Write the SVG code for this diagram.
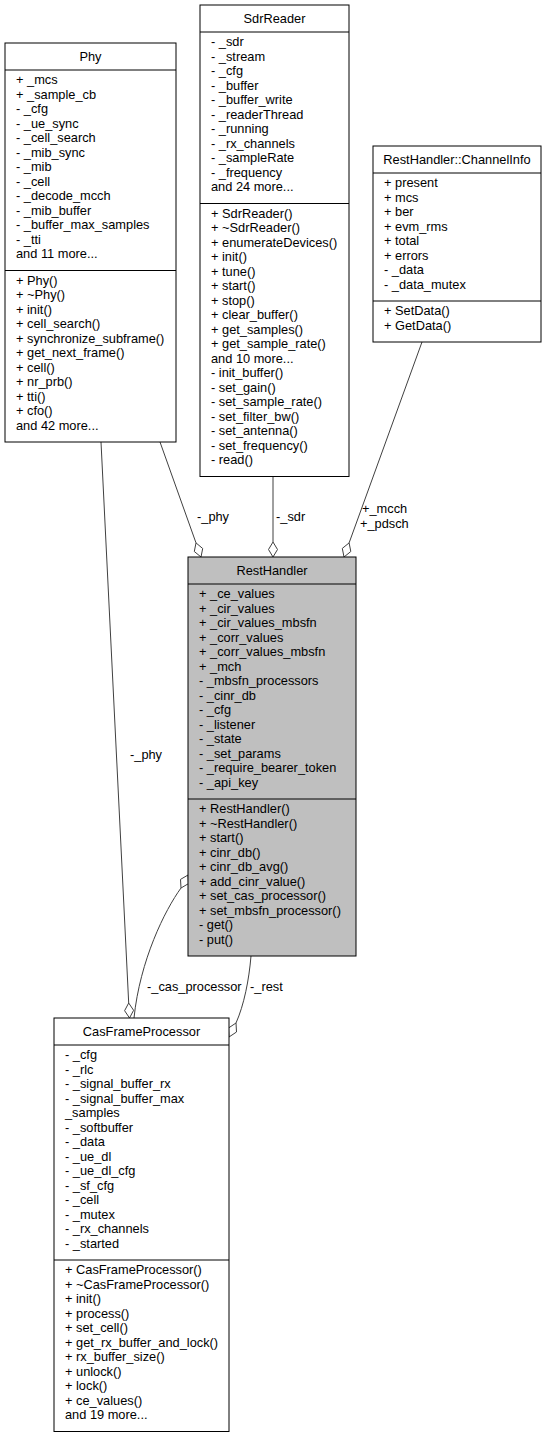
<svg xmlns="http://www.w3.org/2000/svg" width="549" height="1439" viewBox="0 0 549 1439">
<style>
text{font-family:"Liberation Sans",Arial,sans-serif;font-size:12.8px;fill:#000}
.t{text-anchor:middle}
.b{fill:#fff;stroke:#000;stroke-width:1}
.h{fill:#bfbfbf;stroke:#000;stroke-width:1}
.s{stroke:#000;stroke-width:1}
.e{fill:none;stroke:#404040;stroke-width:1}
.d{fill:#fff;stroke:#404040;stroke-width:1}
</style>
<rect width="549" height="1439" fill="#fff"/>
<g id="connectors">
<path class="e" d="M160,442 L196,542.9"/>
<polygon class="d" points="201,557 194.3,551.5 196,542.9 202.7,548.5"/>
<text x="197" y="521">-_phy</text>
<path class="e" d="M273,476.5 L273,542"/>
<polygon class="d" points="273,557 268.5,549.5 273,542 277.5,549.5"/>
<text x="276" y="521">-_sdr</text>
<path class="e" d="M422,342 L349.1,542.9"/>
<polygon class="d" points="344,557 342.3,548.4 349.1,542.9 350.8,551.5"/>
<text x="362" y="513">+_mcch</text>
<text x="360" y="527.5">+_pdsch</text>
<path class="e" d="M101,442 L128.7,1003"/>
<polygon class="d" points="129.5,1018 124.6,1010.7 128.7,1003 133.6,1010.3"/>
<text x="130" y="759">-_phy</text>
<path class="e" d="M134,1018 C140,960 165,910 181,888"/>
<polygon class="d" points="188,875 188.5,883.6 181,888 180.5,879.4"/>
<text x="147" y="991">-_cas_processor</text>
<path class="e" d="M251,956 C249,980 244,1005 236,1023"/>
<polygon class="d" points="229,1037 228.5,1028 236,1023 236.5,1032"/>
<text x="250" y="991">-_rest</text>
</g>
<g id="Phy">
<rect class="b" x="5" y="43" width="171" height="399"/>
<path class="s" d="M5,70H176M5,270.5H176"/>
<text class="t" x="90.5" y="61">Phy</text>
<text x="16" y="84">+ _mcs</text>
<text x="16" y="98.5">+ _sample_cb</text>
<text x="16" y="113">- _cfg</text>
<text x="16" y="127.5">- _ue_sync</text>
<text x="16" y="142">- _cell_search</text>
<text x="16" y="156.5">- _mib_sync</text>
<text x="16" y="171">- _mib</text>
<text x="16" y="185.5">- _cell</text>
<text x="16" y="200">- _decode_mcch</text>
<text x="16" y="214.5">- _mib_buffer</text>
<text x="16" y="229">- _buffer_max_samples</text>
<text x="16" y="243.5">- _tti</text>
<text x="16" y="258">and 11 more...</text>
<text x="16" y="284.5">+ Phy()</text>
<text x="16" y="299">+ ~Phy()</text>
<text x="16" y="313.5">+ init()</text>
<text x="16" y="328">+ cell_search()</text>
<text x="16" y="342.5">+ synchronize_subframe()</text>
<text x="16" y="357">+ get_next_frame()</text>
<text x="16" y="371.5">+ cell()</text>
<text x="16" y="386">+ nr_prb()</text>
<text x="16" y="400.5">+ tti()</text>
<text x="16" y="415">+ cfo()</text>
<text x="16" y="429.5">and 42 more...</text>
</g>
<g id="SdrReader">
<rect class="b" x="200" y="5" width="149" height="471.5"/>
<path class="s" d="M200,32H349M200,203.5H349"/>
<text class="t" x="274.5" y="23">SdrReader</text>
<text x="211" y="46">- _sdr</text>
<text x="211" y="60.5">- _stream</text>
<text x="211" y="75">- _cfg</text>
<text x="211" y="89.5">- _buffer</text>
<text x="211" y="104">- _buffer_write</text>
<text x="211" y="118.5">- _readerThread</text>
<text x="211" y="133">- _running</text>
<text x="211" y="147.5">- _rx_channels</text>
<text x="211" y="162">- _sampleRate</text>
<text x="211" y="176.5">- _frequency</text>
<text x="211" y="191">and 24 more...</text>
<text x="211" y="217.5">+ SdrReader()</text>
<text x="211" y="232">+ ~SdrReader()</text>
<text x="211" y="246.5">+ enumerateDevices()</text>
<text x="211" y="261">+ init()</text>
<text x="211" y="275.5">+ tune()</text>
<text x="211" y="290">+ start()</text>
<text x="211" y="304.5">+ stop()</text>
<text x="211" y="319">+ clear_buffer()</text>
<text x="211" y="333.5">+ get_samples()</text>
<text x="211" y="348">+ get_sample_rate()</text>
<text x="211" y="362.5">and 10 more...</text>
<text x="211" y="377">- init_buffer()</text>
<text x="211" y="391.5">- set_gain()</text>
<text x="211" y="406">- set_sample_rate()</text>
<text x="211" y="420.5">- set_filter_bw()</text>
<text x="211" y="435">- set_antenna()</text>
<text x="211" y="449.5">- set_frequency()</text>
<text x="211" y="464">- read()</text>
</g>
<g id="ChannelInfo">
<rect class="b" x="373" y="146" width="168" height="196"/>
<path class="s" d="M373,173H541M373,301H541"/>
<text class="t" x="457" y="164">RestHandler::ChannelInfo</text>
<text x="384" y="187">+ present</text>
<text x="384" y="201.5">+ mcs</text>
<text x="384" y="216">+ ber</text>
<text x="384" y="230.5">+ evm_rms</text>
<text x="384" y="245">+ total</text>
<text x="384" y="259.5">+ errors</text>
<text x="384" y="274">- _data</text>
<text x="384" y="288.5">- _data_mutex</text>
<text x="384" y="315">+ SetData()</text>
<text x="384" y="329.5">+ GetData()</text>
</g>
<g id="RestHandler">
<rect class="h" x="188" y="557" width="168" height="399"/>
<path class="s" d="M188,584H356M188,799H356"/>
<text class="t" x="272" y="575">RestHandler</text>
<text x="199" y="598">+ _ce_values</text>
<text x="199" y="612.5">+ _cir_values</text>
<text x="199" y="627">+ _cir_values_mbsfn</text>
<text x="199" y="641.5">+ _corr_values</text>
<text x="199" y="656">+ _corr_values_mbsfn</text>
<text x="199" y="670.5">+ _mch</text>
<text x="199" y="685">- _mbsfn_processors</text>
<text x="199" y="699.5">- _cinr_db</text>
<text x="199" y="714">- _cfg</text>
<text x="199" y="728.5">- _listener</text>
<text x="199" y="743">- _state</text>
<text x="199" y="757.5">- _set_params</text>
<text x="199" y="772">- _require_bearer_token</text>
<text x="199" y="786.5">- _api_key</text>
<text x="199" y="813">+ RestHandler()</text>
<text x="199" y="827.5">+ ~RestHandler()</text>
<text x="199" y="842">+ start()</text>
<text x="199" y="856.5">+ cinr_db()</text>
<text x="199" y="871">+ cinr_db_avg()</text>
<text x="199" y="885.5">+ add_cinr_value()</text>
<text x="199" y="900">+ set_cas_processor()</text>
<text x="199" y="914.5">+ set_mbsfn_processor()</text>
<text x="199" y="929">- get()</text>
<text x="199" y="943.5">- put()</text>
</g>
<g id="CasFrameProcessor">
<rect class="b" x="54" y="1018" width="175" height="413.5"/>
<path class="s" d="M54,1045H229M54,1260H229"/>
<text class="t" x="141.5" y="1036">CasFrameProcessor</text>
<text x="65" y="1059">- _cfg</text>
<text x="65" y="1073.5">- _rlc</text>
<text x="65" y="1088">- _signal_buffer_rx</text>
<text x="65" y="1102.5">- _signal_buffer_max</text>
<text x="65" y="1117">_samples</text>
<text x="65" y="1131.5">- _softbuffer</text>
<text x="65" y="1146">- _data</text>
<text x="65" y="1160.5">- _ue_dl</text>
<text x="65" y="1175">- _ue_dl_cfg</text>
<text x="65" y="1189.5">- _sf_cfg</text>
<text x="65" y="1204">- _cell</text>
<text x="65" y="1218.5">- _mutex</text>
<text x="65" y="1233">- _rx_channels</text>
<text x="65" y="1247.5">- _started</text>
<text x="65" y="1274">+ CasFrameProcessor()</text>
<text x="65" y="1288.5">+ ~CasFrameProcessor()</text>
<text x="65" y="1303">+ init()</text>
<text x="65" y="1317.5">+ process()</text>
<text x="65" y="1332">+ set_cell()</text>
<text x="65" y="1346.5">+ get_rx_buffer_and_lock()</text>
<text x="65" y="1361">+ rx_buffer_size()</text>
<text x="65" y="1375.5">+ unlock()</text>
<text x="65" y="1390">+ lock()</text>
<text x="65" y="1404.5">+ ce_values()</text>
<text x="65" y="1419">and 19 more...</text>
</g>
</svg>
